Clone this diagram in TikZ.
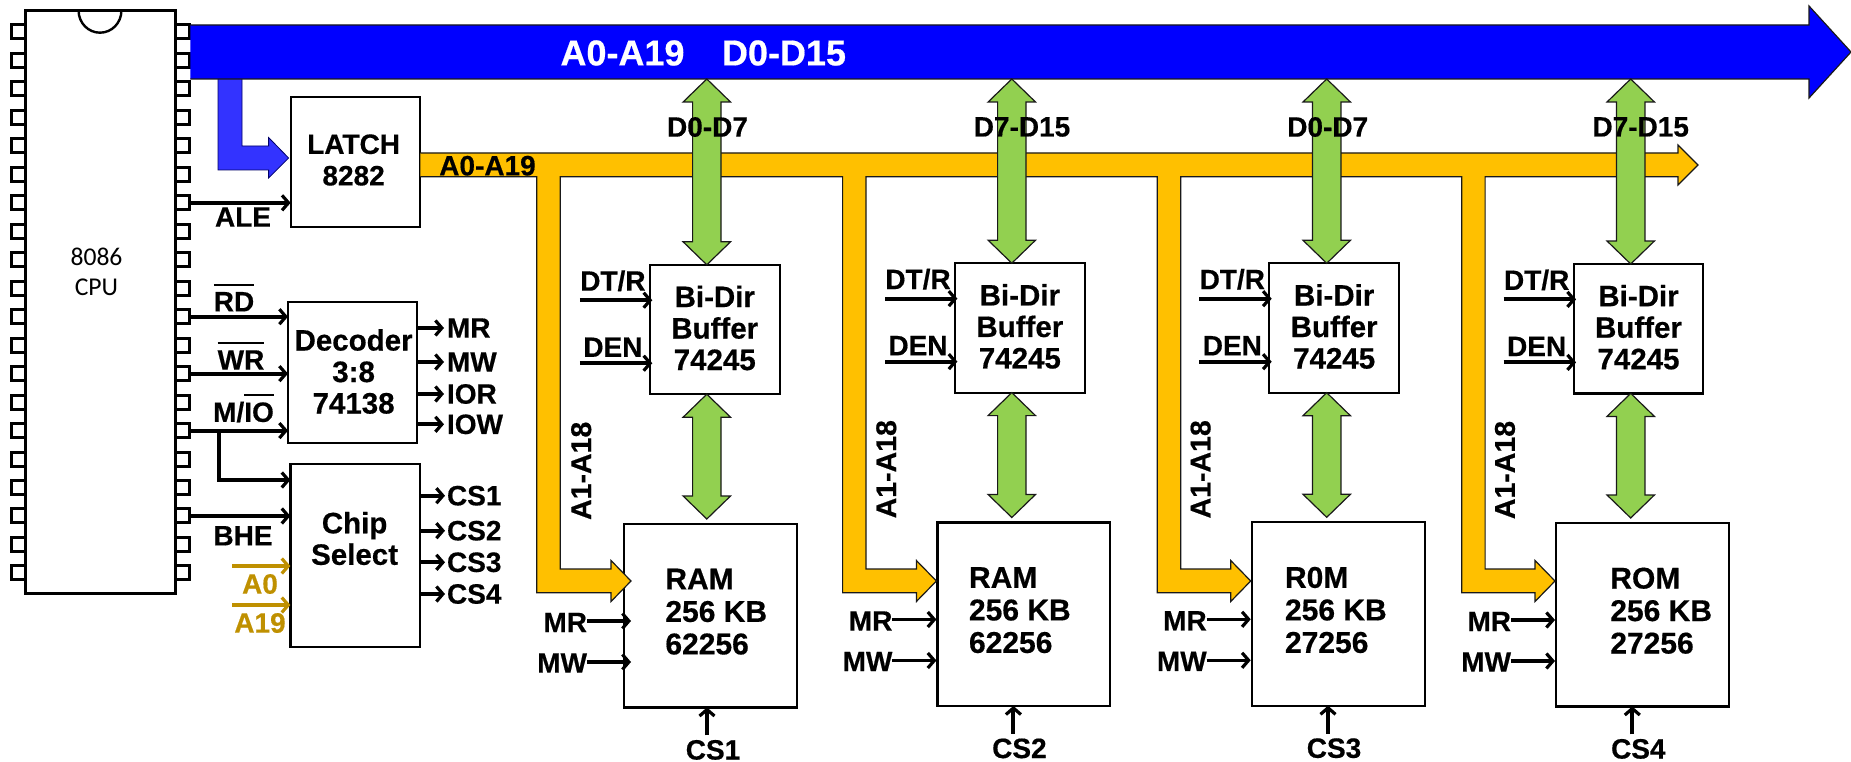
\documentclass[tikz,border=0pt]{standalone}
\usepackage{fontspec}
\setmainfont{Liberation Sans}[BoldFeatures={FakeBold=0.5}]
\newfontfamily\cpufont{Carlito}
\usetikzlibrary{arrows.meta,calc}
\definecolor{busblue}{HTML}{0000FF}
\definecolor{tapblue}{HTML}{3333FF}
\definecolor{busorange}{HTML}{FFC000}
\definecolor{busgreen}{HTML}{92D050}
\definecolor{gold}{HTML}{BF9000}
\newsavebox\ovlbox
\newcommand\ovl[1]{\sbox\ovlbox{#1}\smash{\rlap{\rule[25.5pt]{\wd\ovlbox}{2.2pt}}}\usebox\ovlbox}
\newcommand\gboth[2]{\filldraw[greenbus] (#1) -- ++(23.7,23) -- ++(-9.5,0) -- ($(#2)+(14.2,-23)$) -- ++(9.5,0) -- (#2) -- ++(-23.7,-23) -- ++(9.5,0) -- ($(#1)+(-14.2,23)$) -- ++(-9.5,0) -- cycle;}
\tikzset{
  chipbox/.style={draw=black,line width=2.2pt,fill=white,inner sep=0pt,outer sep=0pt},
  pinbox/.style={draw=black,line width=3pt,fill=white,inner sep=0pt,outer sep=0pt,minimum width=14pt,minimum height=14pt},
  lbl/.style={font=\fontsize{28}{31.5}\selectfont\bfseries,inner sep=0pt,outer sep=0pt,align=center,text=black},
  boxtext/.style={lbl,font=\fontsize{29.5}{31.5}\selectfont\bfseries},
  sig/.style={draw=black,line width=4pt,-{Straight Barb[length=6.5pt,width=15pt,line width=3.2pt]}},
  goldsig/.style={sig,draw=gold},
  greenbus/.style={fill=busgreen,draw=black!90,line width=1.2pt,line join=miter},
  orangebus/.style={fill=busorange,draw=black!90,line width=1.2pt},
  mainbus/.style={fill=busblue,draw=black!90,line width=1.2pt},
  tapbus/.style={fill=tapblue,draw=black!60!blue,line width=0.8pt},
}
\begin{document}
\begin{tikzpicture}[x=1pt,y=-1pt]
\useasboundingbox (0,0) rectangle (1851,762);
% CPU
\foreach \i in {1,...,20}{
  \node[pinbox] (pinL\i) at (18,{32+(\i-1)*28.47}) {};
  \node[pinbox] (pinR\i) at (182,{32+(\i-1)*28.47}) {};
}
\node[chipbox,line width=3pt,minimum width=150pt,minimum height=582.3pt] (cpu) at (100,301.9) {};
\draw[line width=2.4pt,black] (78.6,10.7) arc[start angle=180,end angle=360,x radius=21.4,y radius=-22];
\node[inner sep=0pt,align=center,font=\fontsize{25.6}{30.5}\selectfont\cpufont] (cpuT) at (96.5,272) {8086\\CPU};
% Left column boxes
\node[chipbox,minimum width=129.7pt,minimum height=130pt] (latch) at (355.5,161.7) {};
\node[chipbox,minimum width=129pt,minimum height=141pt] (dec) at (352.5,372.8) {};
\node[chipbox,minimum width=129.2pt,minimum height=183pt] (cs) at (355,555.8) {};
% Columns: boxes
\foreach \i/\bcx/\bcy/\mcx/\mcy in {1/714.75/329.5/710.35/615.7,2/1019.85/327.9/1023.8/614.2,3/1334.15/328/1338.65/614,4/1638.5/328.7/1642.65/614.7}{
  \node[chipbox,minimum width=129.7pt,minimum height=129.4pt] (bi\i) at (\bcx,\bcy) {};
  \node[chipbox,minimum width=172.7pt,minimum height=183.4pt] (mem\i) at (\mcx,\mcy) {};
}
% Blue tap to latch
\filldraw[tapbus] (218,79) -- (218,170) -- (268.6,170) -- (268.6,178) -- (288.6,158) -- (268.6,137.5) -- (268.6,146) -- (242,146) -- (242,79);
% Main blue bus
\filldraw[mainbus] (190.4,25) -- (1809,25) -- (1809,6) -- (1851,52) -- (1809,98) -- (1809,79) -- (190.4,79);
\node[lbl,text=white,font=\fontsize{36}{40}\selectfont\bfseries] (busA) at (622.5,53) {A0-A19};
\node[lbl,text=white,font=\fontsize{36}{40}\selectfont\bfseries] (busD) at (784,53) {D0-D15};
% Orange address bus
\filldraw[orangebus] (latch.east |- 0,153) -- (1678,153) -- (1678,145) -- (1698,165) -- (1678,185) -- (1678,176.7)
  -- (1485.1,176.7) -- (1485.1,569) -- (1535,569) -- (1535,560.5) -- (1555,581) -- (1535,601.5) -- (1535,592.7) -- (1461.7,592.7) -- (1461.7,176.7)
  -- (1180.7,176.7) -- (1180.7,569) -- (1230.7,569) -- (1230.7,560.5) -- (1250.7,581) -- (1230.7,601.5) -- (1230.7,592.7) -- (1157.3,592.7) -- (1157.3,176.7)
  -- (866,176.7) -- (866,569) -- (916.4,569) -- (916.4,560.5) -- (936.4,581) -- (916.4,601.5) -- (916.4,592.7) -- (842.6,592.7) -- (842.6,176.7)
  -- (560.2,176.7) -- (560.2,569) -- (611,569) -- (611,560.5) -- (631,581) -- (611,601.5) -- (611,592.7) -- (536.8,592.7) -- (536.8,176.7)
  -- (latch.east |- 0,176.7);
\node[lbl] (a019) at (487.5,165.7) {A0-A19};
% Latch / decoder / chip select text
\node[lbl] (latchT) at (353.6,160) {LATCH\\8282};
\node[boxtext] (decT) at (353.6,371.5) {Decoder\\3:8\\74138};
\node[boxtext] (csT) at (354.6,538.5) {Chip\\Select};
% CPU signals
\node[lbl] (ale) at (243,217) {ALE};
\node[lbl] (rd) at (234,301.7) {\ovl{RD}};
\node[lbl] (wr) at (241,360) {\ovl{WR}};
\node[lbl] (mio) at (243.5,412) {M/\ovl{IO}};
\node[lbl] (bhe) at (243,535.7) {BHE};
\draw[sig] (pinR7.east) -- (latch.west |- pinR7);
\draw[sig] (pinR11.east) -- (dec.west |- pinR11);
\draw[sig] (pinR13.east) -- (dec.west |- pinR13);
\draw[sig] (pinR15.east) -- (dec.west |- pinR15);
\coordinate (mioJ) at (219,480);
\draw[sig] (mioJ |- pinR15) -- (mioJ) -- (cs.west |- mioJ);
\draw[sig] (pinR18.east) -- (cs.west |- pinR18);
\coordinate (a0s) at (232,566);
\coordinate (a19s) at (232,605);
\draw[goldsig] (a0s) -- (cs.west |- a0s);
\draw[goldsig] (a19s) -- (cs.west |- a19s);
\node[lbl,text=gold] (a0) at (260,584) {A0};
\node[lbl,text=gold] (a19) at (260,623) {A19};
% Decoder outputs
\foreach \n/\t/\y in {mr/MR/328,mw/MW/362,ior/IOR/394,iow/IOW/424.3}{
  \node[lbl,anchor=west] (\n) at (447,\y) {\t};
  \draw[sig] (dec.east |- \n) -- ([xshift=-3pt]\n.west);
}
% Chip-select outputs
\foreach \n/\t/\y in {csa/CS1/495.7,csb/CS2/530.7,csc/CS3/562.3,csd/CS4/594}{
  \node[lbl,anchor=west] (\n) at (447,\y) {\t};
  \draw[sig] (cs.east |- \n) -- ([xshift=-2pt]\n.west);
}
% Columns: green arrows, text, signals
\foreach \i/\gx/\dl/\dt/\tip/\tl/\tA/\tB/\csx/\cst in {
  1/706.8/707.5/D0-D7/631/665.4/RAM/62256/713/CS1,
  2/1011.8/1022/D7-D15/936.4/969/RAM/62256/1019.4/CS2,
  3/1326.7/1327.7/D0-D7/1250.7/1285/R0M/27256/1334/CS3,
  4/1630.7/1640.7/D7-D15/1555/1610.3/ROM/27256/1638.3/CS4}{
  \coordinate (gx\i) at (\gx,79);
  \coordinate (gl\i) at ($(gx\i |- mem\i.north)+(0,-5)$);
  \gboth{gx\i}{gx\i |- bi\i.north}
  \gboth{gx\i |- bi\i.south}{gl\i}
  \node[lbl] (dl\i) at (\dl,127) {\dt};
  \node[boxtext] (biT\i) at ($(bi\i)+(0,-1.5)$) {Bi-Dir\\Buffer\\74245};
  \node[boxtext,anchor=west,align=left,font=\fontsize{30}{32.5}\selectfont\bfseries] (memT\i) at ($(\tl,0 |- mem\i)+(0,-4)$) {\tA\\256 KB\\\tB};
  % DT/R and DEN
  \node[lbl] (dtr\i) at ($(bi\i.north west)+(-37,16)$) {DT/R};
  \node[lbl] (den\i) at ($(bi\i.north west)+(-37,82.4)$) {DEN};
  \coordinate (dtrS\i) at ($(bi\i.north west)+(-70,35.4)$);
  \coordinate (denS\i) at ($(bi\i.north west)+(-70,98.4)$);
  \draw[sig] (dtrS\i) -- ([xshift=2.4pt]bi\i.west |- dtrS\i);
  \draw[sig] (denS\i) -- ([xshift=2.4pt]bi\i.west |- denS\i);
  \node[lbl,rotate=90,font=\fontsize{28.5}{30}\selectfont\bfseries] (a118\i) at ($(bi\i.north west)+(-68.7,206)$) {A1-A18};
  % MR and MW
  \coordinate (mrE\i) at ($(\tip,0 |- mem\i.north)+(0,97)$);
  \coordinate (mwE\i) at ($(\tip,0 |- mem\i.north)+(0,138)$);
  \node[lbl,anchor=east] (mrL\i) at ($(mrE\i)+(-44,1.5)$) {MR};
  \node[lbl,anchor=east] (mwL\i) at ($(mwE\i)+(-44,1)$) {MW};
  \draw[sig,line width=3.4pt] (mrL\i.east |- mrE\i) -- (mrE\i);
  \draw[sig,line width=3.4pt] (mwL\i.east |- mwE\i) -- (mwE\i);
  % chip select
  \node[lbl] (csL\i) at ($(\csx,0 |- mem\i.south)+(0,42.5)$) {\cst};
  \coordinate (csS\i) at ($(\csx,0 |- mem\i.south)+(-6,28)$);
  \draw[sig] (csS\i) -- (csS\i |- mem\i.south);
}
\end{tikzpicture}
\end{document}
